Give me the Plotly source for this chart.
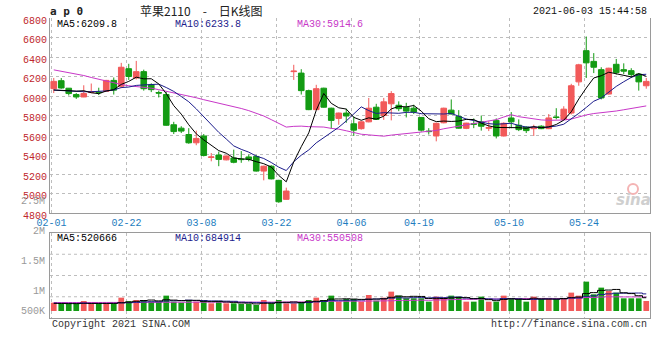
import plotly.graph_objects as go
import pandas as pd

# ---------------- data ----------------
dates = ["02-01","02-02","02-03","02-04","02-05","02-08","02-09","02-10","02-18","02-19",
         "02-22","02-23","02-24","02-25","02-26",
         "03-01","03-02","03-03","03-04","03-05","03-08","03-09","03-10","03-11","03-12",
         "03-15","03-16","03-17","03-18","03-19","03-22","03-23","03-24","03-25","03-26",
         "03-29","03-30","03-31",
         "04-01","04-02","04-06","04-07","04-08","04-09","04-12","04-13","04-14","04-15","04-16",
         "04-19","04-20","04-21","04-22","04-23","04-26","04-27","04-28","04-29","04-30",
         "05-06","05-07","05-10","05-11","05-12","05-13","05-14","05-17","05-18","05-19","05-20","05-21",
         "05-24","05-25","05-26","05-27","05-28","05-31",
         "06-01","06-02","06-03"]

opens = [6075,6157,6080,6015,5990,6035,6040,6048,6160,6100,
         6280,6185,6250,6115,6035,6015,5705,5670,5605,5520,
         5590,5370,5395,5345,5365,5352,5375,5380,5230,5280,
         5135,4940,6250,6235,6055,5860,6080,5875,5770,5825,
         5715,5665,5735,5885,5800,5920,5905,5885,5875,5780,
         5640,5590,5725,5855,5790,5668,5715,5735,5670,5750,
         5590,5775,5700,5680,5665,5690,5665,5785,5760,5825,
         6145,6465,6355,6270,6020,6325,6270,6260,6225,6105]
highs = [6185,6184,6082,6030,6110,6128,6085,6165,6190,6340,
         6330,6360,6270,6130,6055,6045,5735,5690,5670,5645,
         5610,5415,5430,5390,5450,5435,5400,5395,5285,5290,
         5140,5060,6320,6275,6065,6115,6085,5880,5830,5870,
         5790,5740,5980,5920,5980,6050,5945,5930,5910,5785,
         5670,5725,5880,5965,5855,5725,5770,5800,5740,5770,
         5730,5835,5760,5690,5705,5700,5815,5875,5895,6125,
         6330,6610,6440,6295,6290,6380,6335,6285,6235,6185]
lows = [6030,6075,6005,5970,5988,6030,6010,6045,6015,6080,
        6165,6170,6055,6040,5985,5695,5610,5620,5510,5495,
        5380,5330,5280,5340,5310,5315,5330,5225,5135,5145,
        4905,4935,6165,6015,5855,5855,5880,5665,5705,5725,
        5590,5655,5730,5755,5755,5750,5845,5780,5815,5635,
        5605,5535,5720,5810,5665,5660,5670,5645,5640,5565,
        5585,5670,5640,5620,5590,5660,5660,5760,5755,5810,
        6105,6185,6235,5965,6015,6220,6225,6185,6055,6075]
closes = [6150,6082,6025,5990,6025,6045,6035,6160,6060,6295,
          6200,6250,6075,6065,6030,5700,5635,5640,5520,5565,
          5390,5375,5350,5385,5320,5348,5350,5230,5280,5150,
          4915,5025,6255,6055,5860,6075,5885,5750,5825,5795,
          5650,5735,5875,5760,5940,6025,5870,5845,5835,5650,
          5635,5720,5875,5815,5670,5722,5710,5690,5675,5590,
          5720,5735,5655,5645,5675,5665,5775,5780,5865,6105,
          6320,6340,6295,5980,6285,6240,6255,6220,6145,6150]
volumes = [327000,275000,275000,275000,392000,275000,275000,275000,275000,523000,
           392000,432000,432000,366000,366000,602000,366000,327000,432000,366000,
           406000,301000,392000,301000,301000,275000,275000,235000,432000,301000,
           432000,301000,301000,340000,432000,523000,432000,602000,366000,471000,
           471000,366000,628000,406000,523000,759000,602000,497000,497000,497000,
           366000,563000,523000,602000,563000,366000,366000,563000,366000,366000,
           602000,497000,471000,366000,563000,471000,471000,471000,471000,720000,
           602000,1151000,654000,916000,785000,720000,497000,497000,497000,392000]

# moving-average values before a full window exists
ma5_early = [6062, 6058, 6055, 6050]
ma10_early = [6060, 6055, 6050, 6046, 6044, 6044, 6046, 6052, 6062]
ma30_early = [6268, 6255, 6240, 6225, 6210, 6190, 6170, 6150, 6132, 6118,
              6105, 6097, 6088, 6080, 6065, 6050, 6035, 6018, 6000, 5982,
              5962, 5945, 5925, 5908, 5890, 5872, 5850, 5825, 5795]
vma5_early = [300000, 295000, 290000, 290000]
vma10_early = [305000, 302000, 300000, 298000, 296000, 295000, 294000, 293000, 300000]
vma30_early = [330000, 331000, 332000, 332000, 333000, 334000, 334000, 335000, 336000, 337000,
               338000, 339000, 340000, 340000, 341000, 342000, 343000, 343000, 344000, 345000,
               345000, 346000, 346000, 347000, 347000, 348000, 348000, 349000, 349000]

tick_labels = ["02-01", "02-22", "03-08", "03-22", "04-06", "04-19", "05-10", "05-24"]
price_ticks = [4800, 5000, 5200, 5400, 5600, 5800, 6000, 6200, 6400, 6600, 6800]
price_legend = ["MA5:6209.8", "MA10:6233.8", "MA30:5914.6"]
vol_legend = ["MA5:520666", "MA10:684914", "MA30:550508"]
vol_axis_labels = ["2.5M", "2M", "1.5M", "1M", "500K"]
title_text = "苹果2110\u2003-\u2003日K线图"
code_text = "<b>a p 0</b>"
time_text = "2021-06-03 15:44:58"

# ---------------- derived ----------------
x = list(range(len(dates)))


def ma(values, n, early):
    r = pd.Series(values, dtype=float).rolling(n).mean().tolist()
    return list(early) + r[len(early):]


ma5 = ma(closes, 5, ma5_early)
ma10 = ma(closes, 10, ma10_early)
ma30 = ma(closes, 30, ma30_early)
vma5 = ma(volumes, 5, vma5_early)
vma10 = ma(volumes, 10, vma10_early)
vma30 = ma(volumes, 30, vma30_early)

RED = "#f25a5a"
GREEN = "#139b13"
C_MA5 = "#000000"
C_MA10 = "#1c1c8c"
C_MA30 = "#c837c8"
GRID = "#bdbdbd"
AXIS = "#9a9a9a"
MONO = "Liberation Mono, DejaVu Sans Mono, monospace"

bar_colors = [RED if c >= o else GREEN for o, c in zip(opens, closes)]
tick_idx = [dates.index(t) for t in tick_labels]
tick_pos = [i - 0.3 for i in tick_idx]

fig = go.Figure()
fig.add_trace(go.Candlestick(
    x=x, open=opens, high=highs, low=lows, close=closes,
    increasing=dict(line=dict(color=RED, width=1), fillcolor=RED),
    decreasing=dict(line=dict(color=GREEN, width=1), fillcolor=GREEN),
    whiskerwidth=0, hoverinfo="skip", xaxis="x", yaxis="y"))
for vals, col in [(ma30, C_MA30), (ma10, C_MA10), (ma5, C_MA5)]:
    fig.add_trace(go.Scatter(x=x, y=vals, mode="lines", line=dict(color=col, width=1),
                             hoverinfo="skip", xaxis="x", yaxis="y"))

fig.add_trace(go.Bar(x=x, y=volumes, marker=dict(color=bar_colors, line=dict(width=0)),
                     width=0.76, hoverinfo="skip", xaxis="x2", yaxis="y2"))
for vals, col in [(vma30, C_MA30), (vma10, C_MA10), (vma5, C_MA5)]:
    fig.add_trace(go.Scatter(x=x, y=vals, mode="lines", line=dict(color=col, width=1, shape="hvh"),
                             hoverinfo="skip", xaxis="x2", yaxis="y2"))

# layout geometry (pixels -> paper)
L, R, T, B, W, H = 50, 10, 18, 42, 660, 360
PH = H - T - B
PW = W - L - R


def px(xp):
    return (xp - L) / PW


def py(yp):
    return (H - B - yp) / PH


annotations = []


def txt(text, xp, yp, color, size=10, xanchor="left", family=MONO, weight="normal", style="normal"):
    annotations.append(dict(text=text, x=px(xp), y=py(yp), xref="paper", yref="paper",
                            xanchor=xanchor, yanchor="middle", showarrow=False,
                            font=dict(family=family, size=size, color=color, weight=weight, style=style)))


txt(code_text, 48, 12, "#222222", size=11, family="DejaVu Sans Mono")
txt(title_text, 201, 11, "#222222", size=12, xanchor="center", family="Noto Sans CJK SC")
txt(time_text, 649, 12, "#111111", size=10, xanchor="right")
for t, xp, col in zip(price_legend, [55, 173, 295], [C_MA5, C_MA10, C_MA30]):
    txt(t, xp, 24, col, size=10)
for t, xp, col in zip(vol_legend, [55, 173, 295], [C_MA5, C_MA10, C_MA30]):
    txt(t, xp, 238.5, col, size=10)
for t, yp in zip(vol_axis_labels, [201, 231, 261, 291, 311]):
    txt(t, 47, yp, "#999999", size=10, xanchor="right")
txt("Copyright 2021 SINA.COM", 50, 324, "#333333", size=10)
txt("http://finance.sina.com.cn", 649, 324, "#333333", size=10, xanchor="right")
txt("sina", 633, 200, "#cfcfcf", size=15, xanchor="center", family="DejaVu Sans",
    weight="bold", style="italic")

shapes = []
for f in [0.25, 0.5, 0.75]:
    shapes.append(dict(type="line", xref="x2 domain", yref="y2 domain", x0=0, x1=1, y0=f, y1=f,
                       line=dict(color=GRID, width=1, dash="dot"), layer="below"))
shapes.append(dict(type="circle", xref="paper", yref="paper",
                   x0=px(628), x1=px(638), y0=py(194), y1=py(184),
                   line=dict(color="#f4b4b4", width=2)))

fig.update_layout(
    width=W, height=H, margin=dict(l=L, r=R, t=T, b=B),
    paper_bgcolor="white", plot_bgcolor="white", showlegend=False,
    boxgap=0.25, boxgroupgap=0,
    xaxis=dict(domain=[0, 1], anchor="y", range=[-0.5, 79.5], tickvals=tick_pos, ticktext=tick_labels,
               showgrid=True, gridcolor=GRID, griddash="dot", gridwidth=1, zeroline=False,
               showline=True, linecolor=AXIS, linewidth=1, ticks="",
               tickfont=dict(family=MONO, size=10, color="#1e7dc0"),
               rangeslider=dict(visible=False)),
    yaxis=dict(domain=[(H - B - 213) / PH, 1], anchor="x", range=[4800, 6800], tickvals=price_ticks,
               showgrid=True, gridcolor=GRID, griddash="dot", gridwidth=1, zeroline=False,
               showline=True, mirror=True, linecolor=AXIS, linewidth=1, ticks="",
               ticklabelshift=2,
               tickfont=dict(family=MONO, size=10, color="#c0272d")),
    xaxis2=dict(domain=[0, 1], anchor="y2", range=[-0.5, 79.5], matches="x", tickvals=tick_pos,
                showticklabels=False, showgrid=True, gridcolor=GRID, griddash="dot", gridwidth=1,
                zeroline=False, showline=True, mirror=True, linecolor=AXIS, linewidth=1, ticks=""),
    yaxis2=dict(domain=[0, (H - B - 233) / PH], anchor="x2", range=[-274400, 3057600],
                showticklabels=False, showgrid=False, zeroline=False,
                showline=True, mirror=True, linecolor=AXIS, linewidth=1, ticks=""),
    annotations=annotations, shapes=shapes,
)

fig.write_html("out.html")
